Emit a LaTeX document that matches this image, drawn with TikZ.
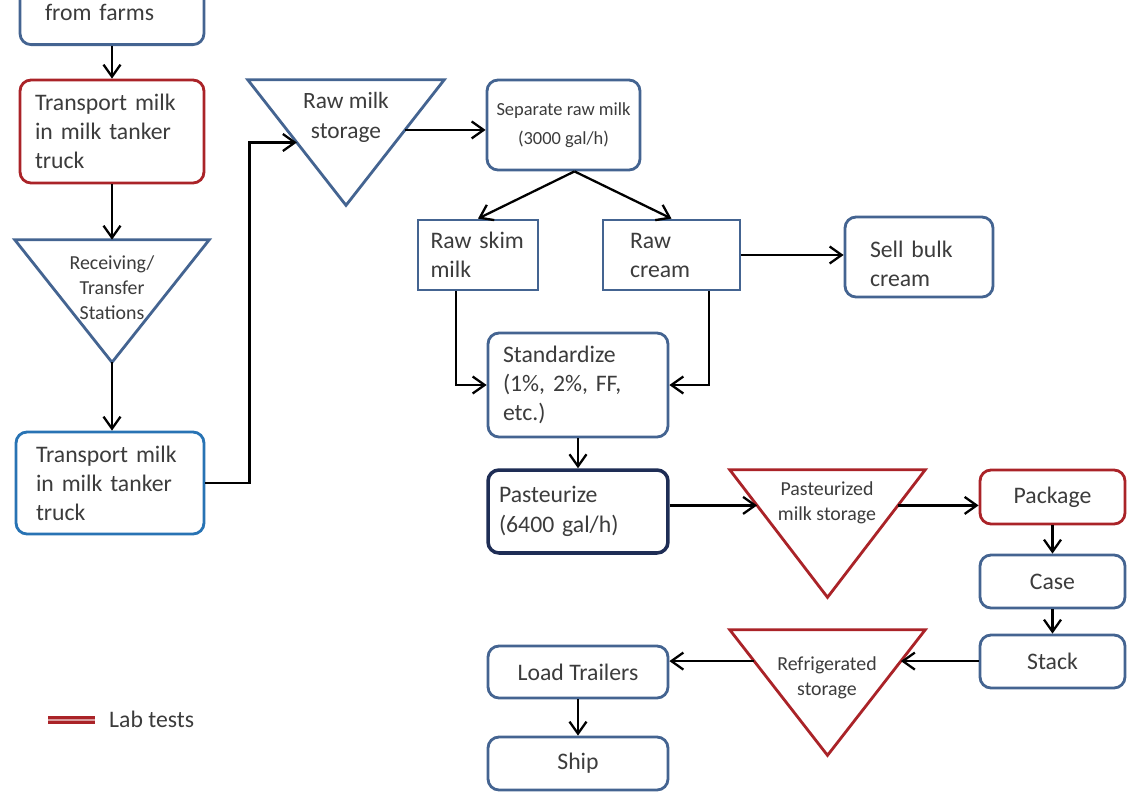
\documentclass[tikz,border=0pt]{standalone}
\usepackage{fontspec}
\setmainfont{Carlito}
\usetikzlibrary{arrows.meta,calc}
\definecolor{boxblue}{RGB}{68,100,145}
\definecolor{labred}{RGB}{170,35,40}
\definecolor{skyblue}{RGB}{40,115,180}
\definecolor{navy}{RGB}{30,45,85}
\definecolor{txtgray}{RGB}{60,60,60}
\tikzset{
  flowbox/.style={draw=boxblue, line width=1.6pt, rounded corners=0.22cm, inner sep=0pt,
    text=txtgray, font=\fontsize{13.5}{16.5}\selectfont, align=left, fill=white},
  testbox/.style={flowbox, draw=labred},
  truckbox/.style={flowbox, draw=skyblue},
  heatbox/.style={flowbox, draw=navy, line width=2pt},
  splitbox/.style={flowbox, rounded corners=0pt},
  tank/.style={inner sep=0pt, minimum width=3.9cm},
  tanktext/.style={text=txtgray, font=\fontsize{11.3}{14.2}\selectfont, align=center, inner sep=0pt},
  bluetri/.style={draw=boxblue, line width=1.6pt, line join=miter},
  redtri/.style={draw=labred, line width=1.6pt, line join=miter},
  joinline/.style={draw=black, line width=1.3pt},
  arrowline/.style={joinline, -{Straight Barb[length=2.4mm,width=3.4mm]}}
}
\begin{document}
\begin{tikzpicture}[x=0.02cm, y=-0.02cm]
    \useasboundingbox (0,0) rectangle (1127,792);
    \clip (0,0) rectangle (1127,792);
    \fill[white] (0,0) rectangle (1127,792);

    \node[flowbox, anchor=south, minimum width=3.68cm, text width=2.68cm,
      text height=2cm, text depth=0.48cm] (farm) at (112,46) {from farms};
    \node[testbox, minimum width=3.68cm, minimum height=2.06cm, text width=3.08cm]
      (trk1) at (112,131.5) {Transport milk\\in milk tanker\\truck};
    \node[tank, minimum height=2.44cm, minimum width=3.88cm] (recv) at (112,301) {};
    \draw[bluetri] (recv.north west) -- (recv.north east) -- (recv.south) -- cycle;
    \node[tanktext] (recvtxt) at (112,288) {Receiving/\\Transfer\\Stations};
    \node[truckbox, minimum width=3.76cm, minimum height=2.04cm, text width=2.96cm]
      (trk2) at (110,483) {Transport milk\\in milk tanker\\truck};

    \node[tank, minimum height=2.5cm, minimum width=3.92cm] (rawst) at (346,142.5) {};
    \draw[bluetri] (rawst.north west) -- (rawst.north east) -- (rawst.south) -- cycle;
    \node[tanktext, font=\fontsize{13.3}{17}\selectfont] (rawsttxt) at (346,117) {Raw milk\\storage};
    \node[flowbox, align=center, font=\fontsize{10.5}{16.5}\selectfont, minimum width=3.06cm,
      minimum height=1.8cm] (sep) at (563.5,125) {Separate raw milk\\(3000 gal/h)};
    \node[splitbox, minimum width=2.4cm, minimum height=1.4cm, text width=1.9cm]
      (skim) at (478,255) {Raw skim\\milk};
    \node[splitbox, minimum width=2.74cm, minimum height=1.4cm, text width=1.66cm]
      (cream) at (671.5,255) {Raw\\cream};
    \node[flowbox, minimum width=2.96cm, minimum height=1.6cm, text width=1.96cm,
      text height=0.62cm] (sell) at (919,257) {Sell bulk\\cream};
    \node[flowbox, minimum width=3.6cm, minimum height=2.08cm, text width=3.0cm]
      (std) at (578,385) {Standardize\\(1\%, 2\%, FF,\\etc.)};
    \node[heatbox, font=\fontsize{13.5}{17}\selectfont, minimum width=3.6cm,
      minimum height=1.66cm, text width=3.16cm] (past) at (578,511.5) {Pasteurize\\(6400 gal/h)};

    \node[tank, minimum height=2.54cm] (pst) at (827.5,533.5) {};
    \draw[redtri] (pst.north west) -- (pst.north east) -- (pst.south) -- cycle;
    \node[tanktext] (psttxt) at (827,503) {Pasteurized\\milk storage};
    \node[testbox, align=center, minimum width=2.9cm, minimum height=1.08cm]
      (pack) at (1052.5,497) {Package};
    \node[flowbox, align=center, minimum width=2.9cm, minimum height=1.06cm]
      (case) at (1052.5,581.5) {Case};
    \node[flowbox, align=center, minimum width=2.9cm, minimum height=1.06cm]
      (stack) at (1052.5,661.5) {Stack};
    \node[tank, minimum height=2.5cm] (refr) at (827.5,692.5) {};
    \draw[redtri] (refr.north west) -- (refr.north east) -- (refr.south) -- cycle;
    \node[tanktext] (refrtxt) at (827,678) {Refrigerated\\storage};
    \node[flowbox, align=center, minimum width=3.6cm, minimum height=1.04cm]
      (load) at (578,672) {Load Trailers};
    \node[flowbox, align=center, minimum width=3.6cm, minimum height=1.06cm]
      (ship) at (578,763.5) {Ship};

    \coordinate (rawin) at ($(rawst.north west)!0.5!(rawst.south)$);
    \coordinate (rawout) at ($(rawst.north east)!0.4!(rawst.south)$);
    \coordinate (sepout) at ($(sep.south)+(11,0)$);
    \coordinate (skimout) at ($(skim.south west)!0.32!(skim.south east)$);
    \coordinate (creamout) at ($(cream.south west)!0.77!(cream.south east)$);
    \coordinate (pstin) at ($(pst.north west)!0.28!(pst.south)$);
    \coordinate (pstout) at ($(pst.north east)!0.28!(pst.south)$);
    \coordinate (refrin) at ($(refr.north east)!0.25!(refr.south)$);
    \coordinate (refrout) at ($(refr.north west)!0.25!(refr.south)$);

    \draw[arrowline] (farm.south) -- (trk1.north);
    \draw[arrowline] (trk1.south) -- (trk1.south |- recv.north);
    \draw[arrowline] (recv.south) -- (recv.south |- trk2.north);
    \draw[arrowline] (trk2.east) -- ++(44,0) |- (rawin);
    \draw[arrowline] (rawout) -- (rawout -| sep.west);
    \draw[arrowline] (sepout) -- (skim.north);
    \draw[arrowline] (sepout) -- (cream.north);
    \draw[arrowline] (cream.east) -- (cream.east -| sell.west);
    \draw[arrowline] (skimout) |- (std.west);
    \draw[arrowline] (creamout) |- (std.east);
    \draw[arrowline] (std.south) -- (past.north);
    \draw[arrowline] (past.east |- pstin) -- (pstin);
    \draw[arrowline] (pstout) -- (pstout -| pack.west);
    \draw[arrowline] (pack.south) -- (case.north);
    \draw[arrowline] (case.south) -- (stack.north);
    \draw[arrowline] (stack.west |- refrin) -- (refrin);
    \draw[arrowline] (refrout) -- (refrout -| load.east);
    \draw[arrowline] (load.south) -- (ship.north);

    \coordinate (legbar) at (48,720);
    \draw[labred, line width=4.5pt] (legbar) -- ++(47,0);
    \draw[labred!45, line width=0.9pt] (legbar) -- ++(47,0);
    \node[anchor=west, text=txtgray, font=\fontsize{13.5}{16.5}\selectfont] (legtxt) at (103,719) {Lab tests};
\end{tikzpicture}
\end{document}
